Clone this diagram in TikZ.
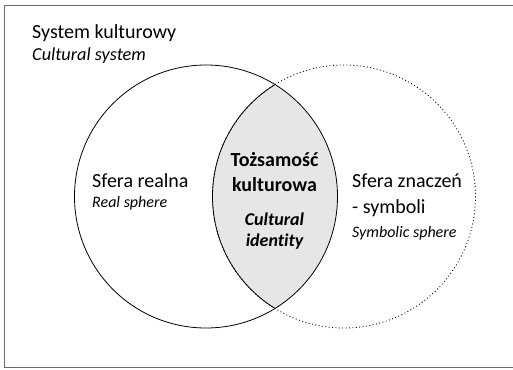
\documentclass[tikz,border=0pt]{standalone}
\usepackage{fontspec}
\setmainfont{Carlito}[Ligatures=NoCommon]
\definecolor{framegray}{HTML}{6E6A67}
\definecolor{lensgray}{HTML}{E6E6E6}
\begin{document}
\begin{tikzpicture}[x=1pt,y=-1pt,
  big/.style={inner sep=0pt, font=\fontsize{20}{24}\selectfont},
  small/.style={inner sep=0pt, font=\fontsize{16}{19}\selectfont\itshape},
  sphere/.style={line width=0.8pt}]
\useasboundingbox (0,0) rectangle (513,369);

% Outer frame (right side runs off the picture)
\draw[framegray, line width=1.8pt] (530,5.5) -- (4.5,5.5) -- (4.5,367.5) -- (530,367.5);
\node[big, anchor=base west] (sys) at (32,39) {System kulturowy};
\node[small, anchor=base west, font=\fontsize{18.3}{22}\selectfont\itshape] (sysen) at (32,60) {Cultural system};

% Spheres
\coordinate (real) at (206,196.5);
\coordinate (symb) at (344,196.5);
\begin{scope}
  \clip (real) circle (131.5);
  \fill[lensgray] (symb) circle (131.5);
\end{scope}
\draw[sphere] (real) circle (131.5);
\draw[sphere, dash pattern=on 1pt off 2.4pt] (symb) circle (131.5);
\begin{scope}
  \clip (real) circle (131.5);
  \draw[sphere] (symb) circle (131.5);
\end{scope}

% Labels
\node[big, anchor=base west] (rl) at (92,187) {Sfera realna};
\node[small, anchor=base west] (rlen) at (92,207) {Real sphere};

\node[big, anchor=base, font=\fontsize{20}{24}\selectfont\bfseries] (id1) at (274.5,166) {Tożsamość};
\node[big, anchor=base, font=\fontsize{20}{24}\selectfont\bfseries] (id2) at (274.5,191) {kulturowa};
\node[small, anchor=base, font=\fontsize{18}{22}\selectfont\bfseries\itshape] (iden1) at (274.5,225) {Cultural};
\node[small, anchor=base, font=\fontsize{18}{22}\selectfont\bfseries\itshape] (iden2) at (274.5,246) {identity};

\node[big, anchor=base west] (sm1) at (352,187) {Sfera znaczeń};
\node[big, anchor=base west] (sm2) at (352,213) {- symboli};
\node[small, anchor=base west] (smen) at (352,237) {Symbolic sphere};

\end{tikzpicture}
\end{document}
